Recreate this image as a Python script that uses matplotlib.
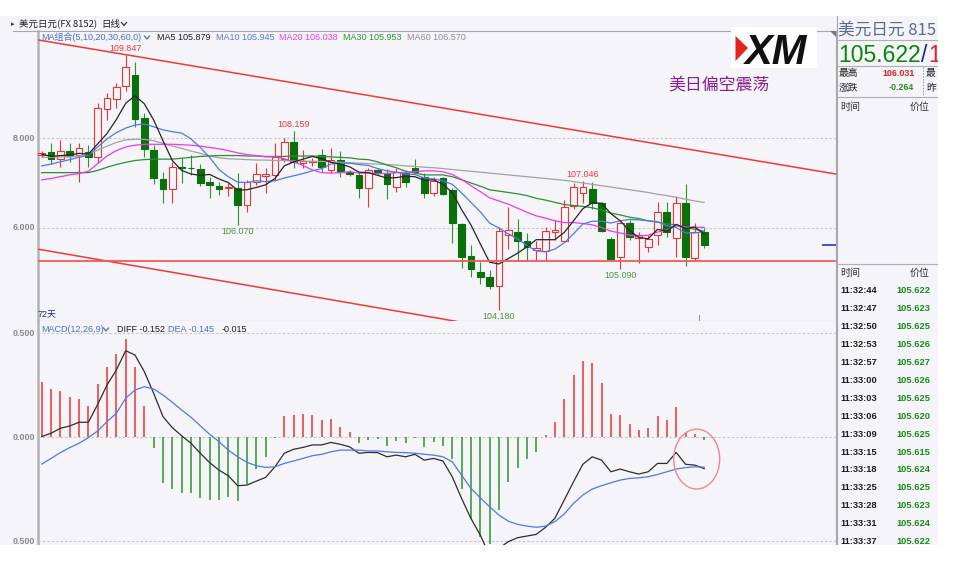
import numpy as np
import matplotlib
matplotlib.use('Agg')
import matplotlib.pyplot as plt
from matplotlib.patches import Rectangle, Ellipse, Polygon
from matplotlib.lines import Line2D
from matplotlib.transforms import blended_transform_factory

# ---------------- data ----------------
opens = [107.62, 107.68, 107.53, 107.70, 107.62, 107.68, 107.57, 108.64, 108.86, 109.16,
         109.40, 108.44, 107.73, 107.08, 106.86, 107.36, 107.34, 107.30, 107.03, 106.93,
         106.89, 106.88, 106.50, 107.03, 107.16, 107.18, 107.53, 107.92, 107.44, 107.47,
         107.62, 107.29, 107.51, 107.25, 107.18, 106.88, 107.29, 107.22, 106.90, 107.22,
         107.33, 107.13, 106.77, 107.10, 106.84, 106.09, 105.38, 105.03, 104.92, 104.70,
         105.84, 105.90, 105.70, 105.50, 105.49, 105.92, 105.72, 106.49, 106.78, 106.86,
         106.56, 105.75, 105.36, 106.12, 105.78, 105.57, 105.84, 106.36, 105.77, 106.56,
         105.33, 105.92]
highs = [107.70, 107.90, 107.96, 107.88, 107.88, 107.84, 108.77, 108.99, 109.23, 109.847,
         109.70, 108.55, 107.84, 107.25, 107.47, 107.55, 107.62, 107.42, 107.14, 107.03,
         106.99, 107.22, 107.07, 107.44, 107.33, 107.88, 107.99, 108.159, 107.73, 107.55,
         107.75, 107.77, 107.70, 107.29, 107.25, 107.33, 107.33, 107.30, 107.33, 107.29,
         107.53, 107.22, 107.14, 107.14, 106.88, 106.10, 105.62, 105.25, 105.07, 106.03,
         106.46, 106.20, 105.88, 105.71, 106.03, 106.18, 106.62, 107.01, 107.046, 107.03,
         106.58, 105.81, 106.14, 106.18, 105.92, 105.84, 106.58, 106.58, 106.70, 106.98,
         106.10, 105.99]
lows = [107.58, 107.42, 107.36, 107.47, 107.03, 107.35, 107.45, 108.40, 108.66, 109.04,
        108.24, 107.57, 106.98, 106.55, 106.56, 106.99, 107.18, 106.93, 106.66, 106.73,
        106.70, 106.070, 106.36, 106.96, 106.78, 107.05, 107.47, 107.33, 107.33, 107.38,
        107.25, 107.22, 107.13, 107.16, 106.66, 106.47, 107.17, 106.64, 106.81, 106.90,
        107.22, 106.66, 106.70, 106.73, 105.66, 105.10, 104.92, 104.76, 104.64, 104.180,
        105.53, 105.27, 105.27, 105.27, 105.27, 105.73, 105.70, 106.42, 106.55, 106.42,
        105.92, 105.27, 105.090, 105.73, 105.22, 105.47, 105.62, 105.81, 105.36, 105.16,
        105.27, 105.55]
closes = [107.66, 107.54, 107.72, 107.61, 107.77, 107.58, 108.66, 108.90, 109.14, 109.58,
          108.42, 107.75, 107.10, 106.86, 107.36, 107.33, 107.33, 106.99, 106.96, 106.86,
          106.90, 106.51, 107.02, 107.19, 107.19, 107.57, 107.92, 107.47, 107.49, 107.48,
          107.36, 107.51, 107.25, 107.20, 106.88, 107.29, 107.22, 106.97, 107.25, 107.03,
          107.25, 106.78, 107.05, 106.76, 106.12, 105.36, 105.08, 104.92, 104.71, 105.93,
          105.96, 105.70, 105.58, 105.55, 105.93, 105.96, 106.47, 106.90, 106.90, 106.56,
          105.94, 105.30, 106.10, 105.79, 105.84, 105.75, 106.36, 105.92, 106.55, 105.35,
          105.90, 105.62]

ma5 = [107.64, 107.59, 107.61, 107.62, 107.66, 107.64, 107.87, 108.10, 108.41, 108.77,
       108.94, 108.76, 108.40, 107.94, 107.50, 107.28, 107.20, 107.17, 107.19, 107.09,
       107.01, 106.84, 106.85, 106.90, 106.96, 107.10, 107.38, 107.47, 107.53, 107.59,
       107.54, 107.46, 107.42, 107.36, 107.24, 107.23, 107.17, 107.11, 107.12, 107.15,
       107.14, 107.06, 107.07, 106.97, 106.79, 106.41, 106.07, 105.65, 105.24, 105.20,
       105.32, 105.44, 105.58, 105.74, 105.74, 105.74, 105.90, 106.16, 106.43, 106.56,
       106.55, 106.32, 106.16, 105.94, 105.79, 105.76, 105.97, 105.93, 106.08, 105.99,
       106.02, 105.87]
ma10 = [107.38, 107.42, 107.47, 107.52, 107.57, 107.62, 107.80, 107.98, 108.12, 108.22,
        108.29, 108.31, 108.25, 108.18, 108.14, 108.11, 107.98, 107.79, 107.57, 107.30,
        107.14, 107.02, 107.01, 107.05, 107.03, 107.05, 107.11, 107.16, 107.21, 107.27,
        107.32, 107.42, 107.44, 107.44, 107.41, 107.39, 107.32, 107.27, 107.24, 107.20,
        107.19, 107.11, 107.09, 107.05, 106.97, 106.78, 106.57, 106.36, 106.11, 106.00,
        105.87, 105.76, 105.61, 105.49, 105.47, 105.53, 105.67, 105.87, 106.09, 106.15,
        106.15, 106.11, 106.16, 106.19, 106.18, 106.16, 106.14, 106.05, 106.01, 105.89,
        105.89, 105.92]
ma20 = [107.07, 107.10, 107.14, 107.18, 107.21, 107.26, 107.43, 107.60, 107.72, 107.80,
        107.84, 107.86, 107.86, 107.86, 107.86, 107.85, 107.84, 107.82, 107.79, 107.76,
        107.72, 107.67, 107.63, 107.61, 107.58, 107.58, 107.54, 107.47, 107.39, 107.29,
        107.23, 107.22, 107.23, 107.25, 107.22, 107.22, 107.21, 107.21, 107.23, 107.24,
        107.25, 107.27, 107.27, 107.25, 107.19, 107.08, 106.94, 106.81, 106.67, 106.60,
        106.53, 106.44, 106.35, 106.27, 106.22, 106.16, 106.12, 106.12, 106.10, 106.07,
        106.01, 105.93, 105.89, 105.84, 105.82, 105.84, 105.91, 105.96, 106.05, 106.02,
        106.02, 106.01]
ma30 = [107.23, 107.23, 107.23, 107.23, 107.23, 107.23, 107.28, 107.35, 107.41, 107.46,
        107.50, 107.52, 107.53, 107.53, 107.53, 107.55, 107.57, 107.59, 107.60, 107.61,
        107.61, 107.61, 107.60, 107.60, 107.59, 107.59, 107.59, 107.60, 107.60, 107.60,
        107.59, 107.58, 107.57, 107.56, 107.53, 107.52, 107.47, 107.40, 107.34, 107.26,
        107.22, 107.18, 107.18, 107.18, 107.14, 107.07, 107.00, 106.93, 106.85, 106.82,
        106.79, 106.76, 106.72, 106.66, 106.62, 106.57, 106.52, 106.50, 106.48, 106.45,
        106.40, 106.33, 106.29, 106.24, 106.21, 106.16, 106.13, 106.09, 106.07, 106.01,
        105.97, 105.93]
ma60 = [107.57, 107.57, 107.58, 107.58, 107.60, 107.64, 107.73, 107.82, 107.90, 107.96,
        107.97, 107.97, 107.94, 107.88, 107.82, 107.77, 107.71, 107.66, 107.60, 107.56,
        107.54, 107.53, 107.52, 107.51, 107.51, 107.50, 107.50, 107.49, 107.49, 107.48,
        107.48, 107.47, 107.46, 107.45, 107.44, 107.43, 107.42, 107.41, 107.40, 107.38,
        107.37, 107.35, 107.34, 107.32, 107.30, 107.28, 107.26, 107.24, 107.22, 107.20,
        107.18, 107.16, 107.14, 107.12, 107.10, 107.08, 107.06, 107.03, 107.00, 106.97,
        106.94, 106.91, 106.88, 106.85, 106.82, 106.79, 106.75, 106.72, 106.68, 106.64,
        106.60, 106.57]

macd_hist = [0.263, 0.231, 0.220, 0.194, 0.183, 0.149, 0.253, 0.337, 0.399, 0.471,
             0.338, 0.151, -0.054, -0.220, -0.252, -0.271, -0.268, -0.295, -0.303, -0.303,
             -0.287, -0.308, -0.228, -0.155, -0.098, -0.004, 0.101, 0.106, 0.109, 0.106,
             0.082, 0.087, 0.050, 0.022, -0.031, -0.015, -0.011, -0.043, -0.019, -0.028,
             -0.006, -0.048, -0.023, -0.044, -0.104, -0.248, -0.392, -0.480, -0.515, -0.349,
             -0.216, -0.148, -0.104, -0.072, 0.008, 0.070, 0.182, 0.297, 0.366, 0.355,
             0.259, 0.113, 0.105, 0.062, 0.036, 0.044, 0.100, 0.084, 0.143, 0.021,
             0.013, -0.015]
diff_line = [0.002, 0.018, 0.042, 0.053, 0.071, 0.071, 0.157, 0.250, 0.322, 0.415,
             0.394, 0.314, 0.210, 0.098, 0.045, 0.006, -0.030, -0.078, -0.123, -0.159,
             -0.186, -0.234, -0.231, -0.212, -0.194, -0.143, -0.078, -0.059, -0.050, -0.038,
             -0.038, -0.026, -0.035, -0.047, -0.078, -0.074, -0.075, -0.095, -0.087, -0.095,
             -0.083, -0.111, -0.103, -0.115, -0.191, -0.295, -0.391, -0.471, -0.570, -0.535,
             -0.503, -0.484, -0.476, -0.468, -0.434, -0.391, -0.303, -0.215, -0.131, -0.095,
             -0.111, -0.167, -0.154, -0.167, -0.178, -0.167, -0.127, -0.127, -0.074, -0.131,
             -0.135, -0.152]
dea_line = [-0.130, -0.103, -0.075, -0.051, -0.030, -0.003, 0.029, 0.074, 0.114, 0.186,
            0.226, 0.242, 0.231, 0.202, 0.167, 0.130, 0.095, 0.054, 0.013, -0.022,
            -0.063, -0.095, -0.122, -0.138, -0.146, -0.143, -0.127, -0.115, -0.103, -0.090,
            -0.083, -0.071, -0.063, -0.063, -0.063, -0.067, -0.067, -0.071, -0.074, -0.075,
            -0.078, -0.083, -0.087, -0.095, -0.119, -0.183, -0.247, -0.292, -0.335, -0.375,
            -0.404, -0.420, -0.428, -0.434, -0.428, -0.407, -0.370, -0.319, -0.279, -0.250,
            -0.234, -0.220, -0.207, -0.199, -0.196, -0.191, -0.180, -0.167, -0.154, -0.147,
            -0.143, -0.145]

price_ticks = [108.0, 106.0]
price_tick_labels = ['8.000', '6.000']
macd_ticks = [0.5, 0.0, -0.5]
macd_tick_labels = ['0.500', '0.000', '0.500']

peak_idx = [9, 27, 58]
trough_idx = [21, 49, 62]

upper_trend_x = [-0.4, 85.1]
upper_trend_y = [110.18, 107.20]
lower_trend_x = [-0.4, 85.1]
lower_trend_y = [105.53, 102.47]
support_level = 105.27
cursor_idx = 70.45

ma_names = ['MA5', 'MA10', 'MA20', 'MA30', 'MA60']
ma_last_values = [105.879, 105.945, 106.038, 105.953, 106.570]
diff_last, dea_last, macd_last = -0.152, -0.145, -0.015

symbol_name = '美元日元'
last_price = 105.622
day_high = 106.031
day_change = -0.264
tick_times = ['11:32:44', '11:32:47', '11:32:50', '11:32:53', '11:32:57', '11:33:00',
              '11:33:03', '11:33:06', '11:33:09', '11:33:15', '11:33:18', '11:33:25',
              '11:33:28', '11:33:31', '11:33:37']
tick_prices = [105.622, 105.623, 105.625, 105.626, 105.627, 105.626, 105.625, 105.620,
               105.625, 105.615, 105.624, 105.625, 105.623, 105.624, 105.622]

# ---------------- figure ----------------
W, H = 954, 565
fig = plt.figure(figsize=(W / 100, H / 100), dpi=100, facecolor='white')

BG = '#f4f4f9'
RED = '#ee3333'
GRN = '#0b700b'
GRN_L = '#2f932f'
BLUE = '#4f78ea'
MAG = '#f236f2'
MA30C = '#2f8f2f'
GRAY = '#a2a2a2'
BORDER = '#a8a8a8'
LAT = ['Liberation Sans', 'Noto Sans CJK SC']
CJK = ['Noto Sans CJK SC', 'DejaVu Sans']


def ftext(x, y, s, **kw):
    kw.setdefault('va', 'center')
    kw.setdefault('ha', 'left')
    return fig.text(x / W, 1 - y / H, s, **kw)


def fline(xs, ys, **kw):
    fig.add_artist(Line2D([v / W for v in xs], [1 - v / H for v in ys],
                          transform=fig.transFigure, **kw))


def frect(x0, y0, x1, y1, **kw):
    fig.add_artist(Rectangle((x0 / W, 1 - y1 / H), (x1 - x0) / W, (y1 - y0) / H,
                             transform=fig.transFigure, **kw))


def chevron(x, y, color, w=5.0, h=3.0):
    fline([x, x + w / 2, x + w], [y, y + h, y], color=color, lw=0.9, zorder=6)


# background of the screenshot area
frect(0, 16, 938, 545, facecolor=BG, edgecolor='none', zorder=-5)

# axes
L, R = 38, 836
ax = fig.add_axes([L / W, 1 - 321 / H, (R - L) / W, (321 - 31) / H])
ax2 = fig.add_axes([L / W, 1 - 545 / H, (R - L) / W, (545 - 321) / H])
for a in (ax, ax2):
    a.set_facecolor(BG)
    a.set_xlim(-0.3966, 85.13)
    a.set_xticks([])
    a.set_yticks([])
    for s in a.spines.values():
        s.set_color(BORDER)
        s.set_linewidth(0.8)
    a.spines['left'].set_linewidth(1.8)
    a.spines['left'].set_color('#b4b4b4')
ax.set_ylim(103.933, 110.378)
ax2.set_ylim(-0.519, 0.5577)
ax2.spines['top'].set_visible(False)
ax2.spines['bottom'].set_visible(False)

x = np.arange(len(closes))
o = np.array(opens)
c = np.array(closes)
hi = np.array(highs)
lo = np.array(lows)
up = c >= o

# gridlines
for t in price_ticks:
    ax.axhline(t, color='#c4c4c4', lw=0.8, ls=(0, (2, 2)), zorder=1)
for t in macd_ticks:
    ax2.axhline(t, color='#c4c4c4', lw=0.8, ls=(0, (2, 2)), zorder=1)

# candles
wick_cols = [RED if u else GRN_L for u in up]
edge_cols = [RED if u else GRN for u in up]
face_cols = [BG if u else GRN for u in up]
ax.vlines(x, lo, hi, colors=wick_cols, linewidth=0.8, zorder=2)
body_h = np.maximum(np.abs(c - o), 0.012)
ax.bar(x, body_h, bottom=np.minimum(o, c), width=0.72, color=face_cols,
       edgecolor=edge_cols, linewidth=0.8, zorder=3)

# moving averages
ax.plot(x, ma60, color=GRAY, lw=0.9, zorder=4)
ax.plot(x, ma30, color=MA30C, lw=0.9, zorder=4)
ax.plot(x, ma20, color=MAG, lw=0.9, zorder=4)
ax.plot(x, ma10, color=BLUE, lw=0.9, zorder=4)
ax.plot(x, ma5, color='#262626', lw=0.9, zorder=5)

# trend lines
ax.plot(upper_trend_x, upper_trend_y, color='#f03a3a', lw=1.1, zorder=6)
ax.plot(lower_trend_x, lower_trend_y, color='#f03a3a', lw=1.1, zorder=6)
ax.axhline(support_level, color='#f05a5a', lw=1.3, zorder=6)
ax.plot([83.7, 85.13], [closes[-1], closes[-1]], color='#3a48b8', lw=1.3, zorder=6)
ax.plot([cursor_idx, cursor_idx], [103.933, 104.07], color='#999999', lw=0.8, zorder=6)

# high / low labels
for i in peak_idx:
    ax.annotate(f'{highs[i]:.3f}', (i, highs[i]), xytext=(0, 6.5), textcoords='offset pixels',
                ha='center', va='center', fontsize=6.4, color='#ee3838', family=LAT, zorder=7)
for i in trough_idx:
    ax.annotate(f'{lows[i]:.3f}', (i, lows[i]), xytext=(0, -6.5), textcoords='offset pixels',
                ha='center', va='center', fontsize=6.4, color='#4f953f', family=LAT, zorder=7)

# price axis labels
tr = blended_transform_factory(ax.transAxes, ax.transData)
for t, lab in zip(price_ticks, price_tick_labels):
    ax.text(-3 / 798, t, lab, transform=tr, ha='right', va='center', fontsize=6.4,
            color='#8a8a8a', fontweight='bold', family=LAT, clip_on=False)
tr2 = blended_transform_factory(ax2.transAxes, ax2.transData)
for t, lab in zip(macd_ticks, macd_tick_labels):
    ax2.text(-3 / 798, t, lab, transform=tr2, ha='right', va='center', fontsize=6.4,
             color='#8a8a8a', fontweight='bold', family=LAT, clip_on=False)

# MACD
hist = np.array(macd_hist)
ax2.vlines(x, 0, hist, colors=[RED if v >= 0 else GRN_L for v in hist], linewidth=1.1, zorder=2)
ax2.plot(x, diff_line, color='#2e2e2e', lw=0.9, zorder=4)
ax2.plot(x, dea_line, color=BLUE, lw=0.9, zorder=4)
ax2.add_patch(Ellipse((70.2, -0.106), 4.93, 0.288, fill=False, edgecolor='#f08a8a', lw=1.0, zorder=5))

# ---------- header rows ----------
ftext(11, 24, '▸', fontsize=5, family='DejaVu Sans', color='#333333')
ftext(19, 24, f'{symbol_name}(FX 8152)', fontsize=6.8, family=CJK, color='#222222')
ftext(101.5, 24, '日线', fontsize=6.8, family=CJK, color='#222222')
chevron(121.5, 22.5, '#333333')
fline([13, 38], [31, 31], color=BORDER, lw=0.8)

ftext(41.5, 37, 'MA组合(5,10,20,30,60,0)', fontsize=6.5, family=LAT, color='#4a6ee0')
chevron(144.5, 36, '#4a6ee0')
ma_cols = ['#1e1e1e', '#5679ee', '#f03cf0', '#2a932a', '#8e8e8e']
ma_xs = [156.7, 215.7, 279.3, 342.7, 406.7]
for name, val, col, xx in zip(ma_names, ma_last_values, ma_cols, ma_xs):
    ftext(xx, 37, f'{name} {val:.3f}', fontsize=6.5, family=LAT, color=col)

ftext(37, 315, '72天', fontsize=6.4, family=LAT, color='#24248a')

ftext(41.5, 329, 'MACD(12,26,9)', fontsize=6.5, family=LAT, color='#4a6ee0')
chevron(103.5, 328, '#4a6ee0')
ftext(116.7, 329, f'DIFF {diff_last:.3f}', fontsize=6.5, family=LAT, color='#1e1e1e')
ftext(168, 329, f'DEA {dea_last:.3f}', fontsize=6.5, family=LAT, color='#4a6ee0')
ftext(221.7, 329, f'{macd_last:.3f}', fontsize=6.5, family=LAT, color='#1e1e1e')

# logo and comment
frect(730.7, 26.7, 816.7, 68.3, facecolor='white', edgecolor='none', zorder=8)
fig.add_artist(Polygon([(735.5 / W, 1 - 36 / H), (748 / W, 1 - 48 / H), (735.5 / W, 1 - 61 / H)],
                       closed=True, transform=fig.transFigure, facecolor='#e52420',
                       edgecolor='none', zorder=9))
ftext(745, 63.5, 'XM', fontsize=30, family='Liberation Sans', fontweight='bold',
      fontstyle='italic', color='#111111', va='baseline', zorder=10)
ftext(668, 84.5, '美日偏空震荡', fontsize=12.2, family=CJK, color='#8a1f8f', zorder=8)
fig.add_artist(Polygon([(830 / W, 1 - 30.5 / H), (836 / W, 1 - 30.5 / H), (836 / W, 1 - 36.5 / H)],
                       closed=True, transform=fig.transFigure, facecolor='#7a7a7a',
                       edgecolor='none', zorder=9))

# ---------- right quote panel ----------
fline([836.5, 836.5], [16, 545], color=BORDER, lw=0.8, zorder=4)
for yy in (40, 66, 97, 264):
    fline([836.5, 938], [yy, yy], color='#b0b0b0', lw=0.8, zorder=4)
fline([923, 923], [67, 96], color='#9a9a9a', lw=0.7, ls=(0, (1.5, 1.5)), zorder=4)

ftext(838.5, 30, f'{symbol_name} 815', fontsize=12, family=CJK, color='#5a6894')
ftext(838.5, 62, f'{last_price:.3f}', fontsize=16.5, family='Liberation Sans',
      color='#0a870a', va='baseline')
ftext(921.5, 62, '/', fontsize=16.5, family='Liberation Sans', color='#1a2a8a', va='baseline')
ftext(928.5, 62, '1', fontsize=16.5, family='Liberation Sans', color='#e52020', va='baseline')

ftext(839, 73, '最高', fontsize=7, family=CJK, color='#222222')
ftext(915, 73, f'{day_high:.3f}', fontsize=6.4, family=LAT, fontweight='bold',
      color='#e82020', ha='right')
ftext(926, 73, '最', fontsize=7, family=CJK, color='#222222')
ftext(839, 88, '涨跌', fontsize=7, family=CJK, color='#222222')
ftext(914, 88, f'{day_change:.3f}', fontsize=6.4, family=LAT, fontweight='bold',
      color='#2a8a2a', ha='right')
ftext(926, 88, '昨', fontsize=7, family=CJK, color='#222222')

for yy in (107, 273):
    ftext(840, yy, '时间', fontsize=7.2, family=CJK, color='#333333')
    ftext(929.5, yy, '价位', fontsize=7.2, family=CJK, color='#333333', ha='right')

for k, (tt, pp) in enumerate(zip(tick_times, tick_prices)):
    yy = 290.7 + 17.93 * k
    ftext(840, yy, tt, fontsize=6.7, family=LAT, fontweight='bold', color='#1e1e1e')
    ftext(930, yy, f'{pp:.3f}', fontsize=6.7, family=LAT, fontweight='bold',
          color='#1a8a1a', ha='right')

# screenshot crop edges (white)
frect(938, 0, 954, 565, facecolor='white', edgecolor='none', zorder=30)
frect(0, 545, 954, 565, facecolor='white', edgecolor='none', zorder=30)
frect(0, 0, 954, 16, facecolor='white', edgecolor='none', zorder=30)

fig.savefig('out.png', dpi=100, facecolor='white')
